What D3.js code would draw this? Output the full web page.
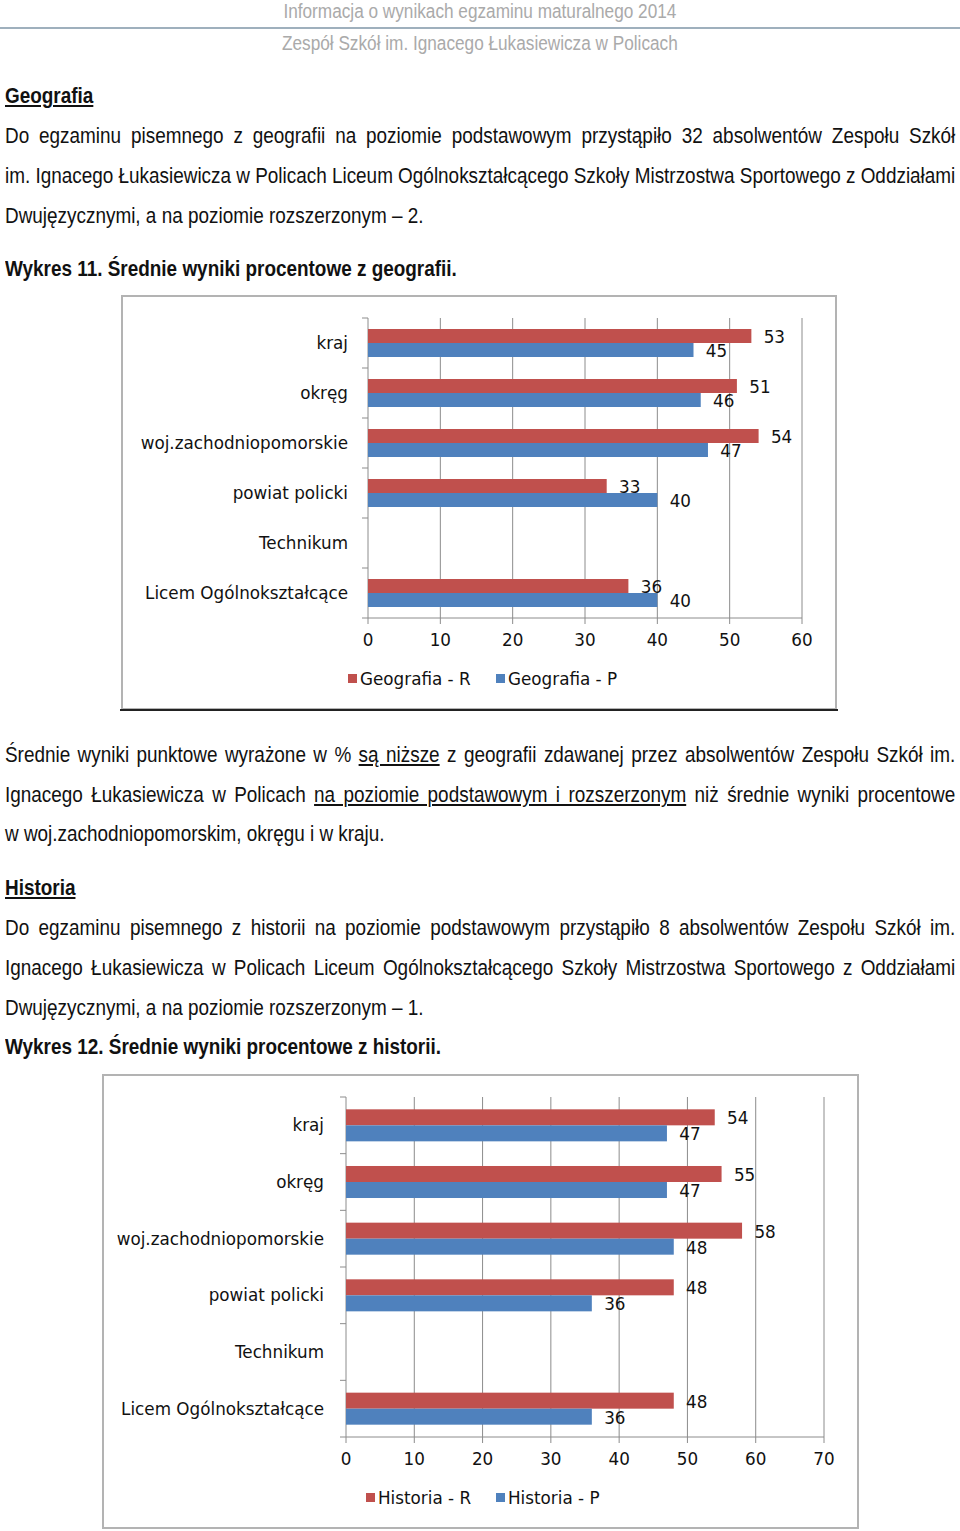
<!DOCTYPE html>
<html>
<head>
<meta charset="utf-8">
<script src="https://cdn.jsdelivr.net/npm/d3@7"></script>
<style>
  body { margin: 0; background: #fff; }
  #page { position: relative; width: 960px; height: 1531px; overflow: hidden; }
  /* narrow look: Liberation Sans squeezed horizontally */
  .txt { position: absolute; left: 5px; width: 1105px; font-family: "Liberation Sans", Arial, sans-serif;
         font-size: 22px; color: #111; white-space: nowrap; line-height: 26px;
         transform: scaleX(0.86); transform-origin: 0 0; }
  .just { text-align: justify; text-align-last: justify; white-space: normal; word-spacing: -3px; }
  .head { text-align: center; color: #aaa; left: 0; width: 1116px; font-size: 20px; }
  .bold { font-weight: bold; }
  .u { text-decoration: underline; }
  svg { position: absolute; left: 0; top: 0; }
</style>
</head>
<body>
<div id="page">
  <svg id="charts" width="960" height="1531"></svg>
</div>
<script>
// categories and values
const categories = ["kraj", "okręg", "woj.zachodniopomorskie", "powiat policki", "Technikum", "Licem Ogólnokształcące"];
const geoR = [53, 51, 54, 33, null, 36];
const geoP = [45, 46, 47, 40, null, 40];
const histR = [54, 55, 58, 48, null, 48];
const histP = [47, 47, 48, 36, null, 36];
const geoTicks = [0, 10, 20, 30, 40, 50, 60];
const histTicks = [0, 10, 20, 30, 40, 50, 60, 70];

const RED = "#C0504D", BLUE = "#4F81BD";

// page texts: [top, html, class]
const lines = [
    [-2, "Informacja o wynikach egzaminu maturalnego 2014", "head"],
    [30, "Zespół Szkół im. Ignacego Łukasiewicza w Policach", "head"],
    [83, "<span class='u'>Geografia</span>", "bold"],
    [123, "Do egzaminu pisemnego z geografii na poziomie podstawowym przystąpiło 32 absolwentów Zespołu Szkół", "just"],
    [163, "im. Ignacego Łukasiewicza w Policach Liceum Ogólnokształcącego Szkoły Mistrzostwa Sportowego z Oddziałami", "just"],
    [203, "Dwujęzycznymi, a na poziomie rozszerzonym – 2.", ""],
    [256, "Wykres 11. Średnie wyniki procentowe z geografii.", "bold"],
    [742, "Średnie wyniki punktowe wyrażone w % <span class='u'>są niższe</span> z geografii zdawanej przez absolwentów Zespołu Szkół im.", "just"],
    [782, "Ignacego Łukasiewicza w Policach <span class='u'>na poziomie podstawowym i rozszerzonym</span> niż średnie wyniki procentowe", "just"],
    [821, "w woj.zachodniopomorskim, okręgu i w kraju.", ""],
    [875, "<span class='u'>Historia</span>", "bold"],
    [915, "Do egzaminu pisemnego z historii na poziomie podstawowym przystąpiło 8 absolwentów Zespołu Szkół im.", "just"],
    [955, "Ignacego Łukasiewicza w Policach Liceum Ogólnokształcącego Szkoły Mistrzostwa Sportowego z Oddziałami", "just"],
    [995, "Dwujęzycznymi, a na poziomie rozszerzonym – 1.", ""],
    [1034, "Wykres 12. Średnie wyniki procentowe z historii.", "bold"]
];

const page = d3.select("#page");
lines.forEach(l => {
    page.append("div").attr("class", "txt " + l[2]).style("top", l[0] + "px").html(l[1]);
});

const svg = d3.select("#charts");

// header rule
svg.append("line").attr("x1", 0).attr("x2", 960).attr("y1", 28).attr("y2", 28)
    .attr("stroke", "#9fb0bd").attr("stroke-width", 2);

function drawChart(o) {
    const g = svg.append("g");
    g.append("rect").attr("x", o.frame[0]).attr("y", o.frame[1])
        .attr("width", o.frame[2] - o.frame[0]).attr("height", o.frame[3] - o.frame[1])
        .attr("fill", "#fff").attr("stroke", "#b3b3b3").attr("stroke-width", 2);
    if (o.shadow) {
        g.append("line").attr("x1", o.frame[0] - 2).attr("x2", o.frame[2] + 2)
            .attr("y1", o.frame[3] + 1).attr("y2", o.frame[3] + 1)
            .attr("stroke", "#222").attr("stroke-width", 2);
    }

    const x = d3.scaleLinear().domain([0, o.max]).range([o.x0, o.x1]);
    const y = d3.scaleBand().domain(categories).range([o.top, o.bottom]).paddingInner(o.pad).paddingOuter(o.pad / 2);
    const sub = d3.scaleBand().domain(["R", "P"]).range([0, y.bandwidth()]);

    // gridlines
    g.selectAll(".grid").data(o.ticks.slice(1)).enter().append("line")
        .attr("x1", d => x(d)).attr("x2", d => x(d))
        .attr("y1", o.top).attr("y2", o.bottom + 6)
        .attr("stroke", "#8c8c8c").attr("stroke-width", 1);
    // category axis
    g.append("line").attr("x1", o.x0).attr("x2", o.x0).attr("y1", o.top).attr("y2", o.bottom + 6)
        .attr("stroke", "#8c8c8c");
    const step = y.step();
    const bounds = d3.range(categories.length + 1).map(i => o.top + i * step);
    g.selectAll(".ytick").data(bounds).enter().append("line")
        .attr("x1", o.x0 - 6).attr("x2", o.x0).attr("y1", d => d).attr("y2", d => d)
        .attr("stroke", "#8c8c8c");
    g.append("line").attr("x1", o.x0).attr("x2", o.x1).attr("y1", o.bottom).attr("y2", o.bottom)
        .attr("stroke", "#8c8c8c");

    const font = "'DejaVu Sans', Verdana, sans-serif";
    g.selectAll(".cat").data(categories).enter().append("text")
        .attr("x", o.x0 - o.labelGap).attr("y", d => y(d) + y.bandwidth() / 2)
        .attr("dy", "0.35em").attr("text-anchor", "end")
        .style("font-family", font).style("font-size", "16.8px").attr("fill", "#111")
        .text(d => d);

    g.selectAll(".xt").data(o.ticks).enter().append("text")
        .attr("x", d => x(d)).attr("y", o.tickY).attr("dy", "0.35em").attr("text-anchor", "middle")
        .style("font-family", font).style("font-size", "16.8px").attr("fill", "#111")
        .text(d => d);

    const series = [{ key: "R", vals: o.r, color: RED }, { key: "P", vals: o.p, color: BLUE }];
    series.forEach(s => {
        const pts = categories.map((c, i) => ({ c: c, v: s.vals[i] })).filter(d => d.v != null);
        g.selectAll(".bar" + s.key).data(pts).enter().append("rect")
            .attr("x", o.x0).attr("y", d => y(d.c) + sub(s.key))
            .attr("width", d => x(d.v) - o.x0).attr("height", sub.bandwidth())
            .attr("fill", s.color);
        g.selectAll(".lab" + s.key).data(pts).enter().append("text")
            .attr("x", d => x(d.v) + 23).attr("y", d => y(d.c) + sub(s.key) + sub.bandwidth() / 2 + 1)
            .attr("dy", "0.35em").attr("text-anchor", "middle")
            .style("font-family", font).style("font-size", "16.8px").attr("fill", "#111")
            .text(d => d.v);
    });

    // legend
    o.legend.forEach((l, i) => {
        g.append("rect").attr("x", l.x).attr("y", o.legendY - 5).attr("width", 9).attr("height", 9)
            .attr("fill", i === 0 ? RED : BLUE);
        g.append("text").attr("x", l.x + 12).attr("y", o.legendY).attr("dy", "0.35em")
            .style("font-family", font).style("font-size", "16.8px").attr("fill", "#111")
            .text(l.text);
    });
}

drawChart({
    frame: [122, 296, 836, 709], shadow: true,
    x0: 368, x1: 802, max: 60, ticks: geoTicks,
    top: 318, bottom: 618, pad: 0.44, labelGap: 20, tickY: 640,
    r: geoR, p: geoP, legendY: 679,
    legend: [{ x: 348, text: "Geografia - R" }, { x: 496, text: "Geografia - P" }]
});

drawChart({
    frame: [103, 1075, 858, 1528], shadow: false,
    x0: 346, x1: 824, max: 70, ticks: histTicks,
    top: 1097, bottom: 1437, pad: 0.435, labelGap: 22, tickY: 1459,
    r: histR, p: histP, legendY: 1498,
    legend: [{ x: 366, text: "Historia - R" }, { x: 496, text: "Historia - P" }]
});
</script>
</body>
</html>
